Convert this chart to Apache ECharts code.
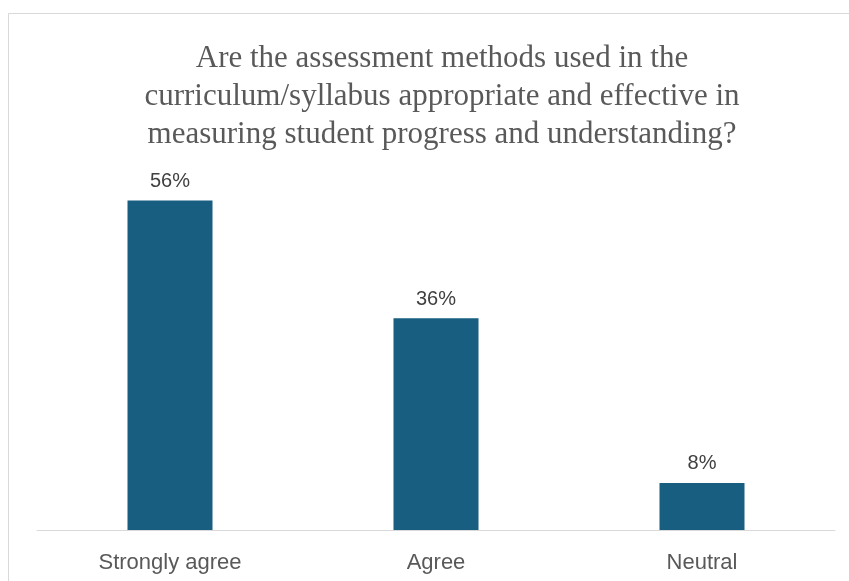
<!DOCTYPE html>
<html><head><meta charset="utf-8">
<script src="https://cdn.jsdelivr.net/npm/echarts@6/dist/echarts.min.js"></script>
<style>html,body{margin:0;padding:0;background:#fff}#c{width:849px;height:581px}</style>
</head><body><div id="c"></div>
<script>
const categories = ["Strongly agree", "Agree", "Neutral"];
const values = [56, 36, 8];
const titleText = "Are the assessment methods used in the\ncurriculum/syllabus appropriate and effective in\nmeasuring student progress and understanding?";

const chart = echarts.init(document.getElementById('c'), null, {renderer: 'canvas'});
chart.setOption({
  animation: false,
  backgroundColor: '#ffffff',
  graphic: [{
    type: 'rect', shape: {x: 8.5, y: 13.5, width: 900, height: 700},
    style: {fill: 'none', stroke: '#d9d9d9', lineWidth: 1}, silent: true
  }],
  title: {
    text: titleText, left: 437, top: 35, textAlign: 'center',
    textStyle: {fontFamily: 'Liberation Serif', fontSize: 31, fontWeight: 'normal', color: '#595959', lineHeight: 38}
  },
  grid: {left: 37, right: 14, top: 177, bottom: 51},
  xAxis: {
    type: 'category', data: categories,
    axisLine: {lineStyle: {color: '#d9d9d9', width: 1}},
    axisTick: {show: false},
    axisLabel: {fontFamily: 'Liberation Sans', fontSize: 22, color: '#595959', margin: 22}
  },
  yAxis: {type: 'value', min: 0, max: 60, show: false, splitLine: {show: false}},
  series: [{
    type: 'bar', data: values, barWidth: 85,
    itemStyle: {color: '#175E80'},
    label: {show: true, position: 'top', distance: 9, formatter: p => p.value + '%',
      fontFamily: 'Liberation Sans', fontSize: 20, color: '#404040'}
  }]
});
</script></body></html>
